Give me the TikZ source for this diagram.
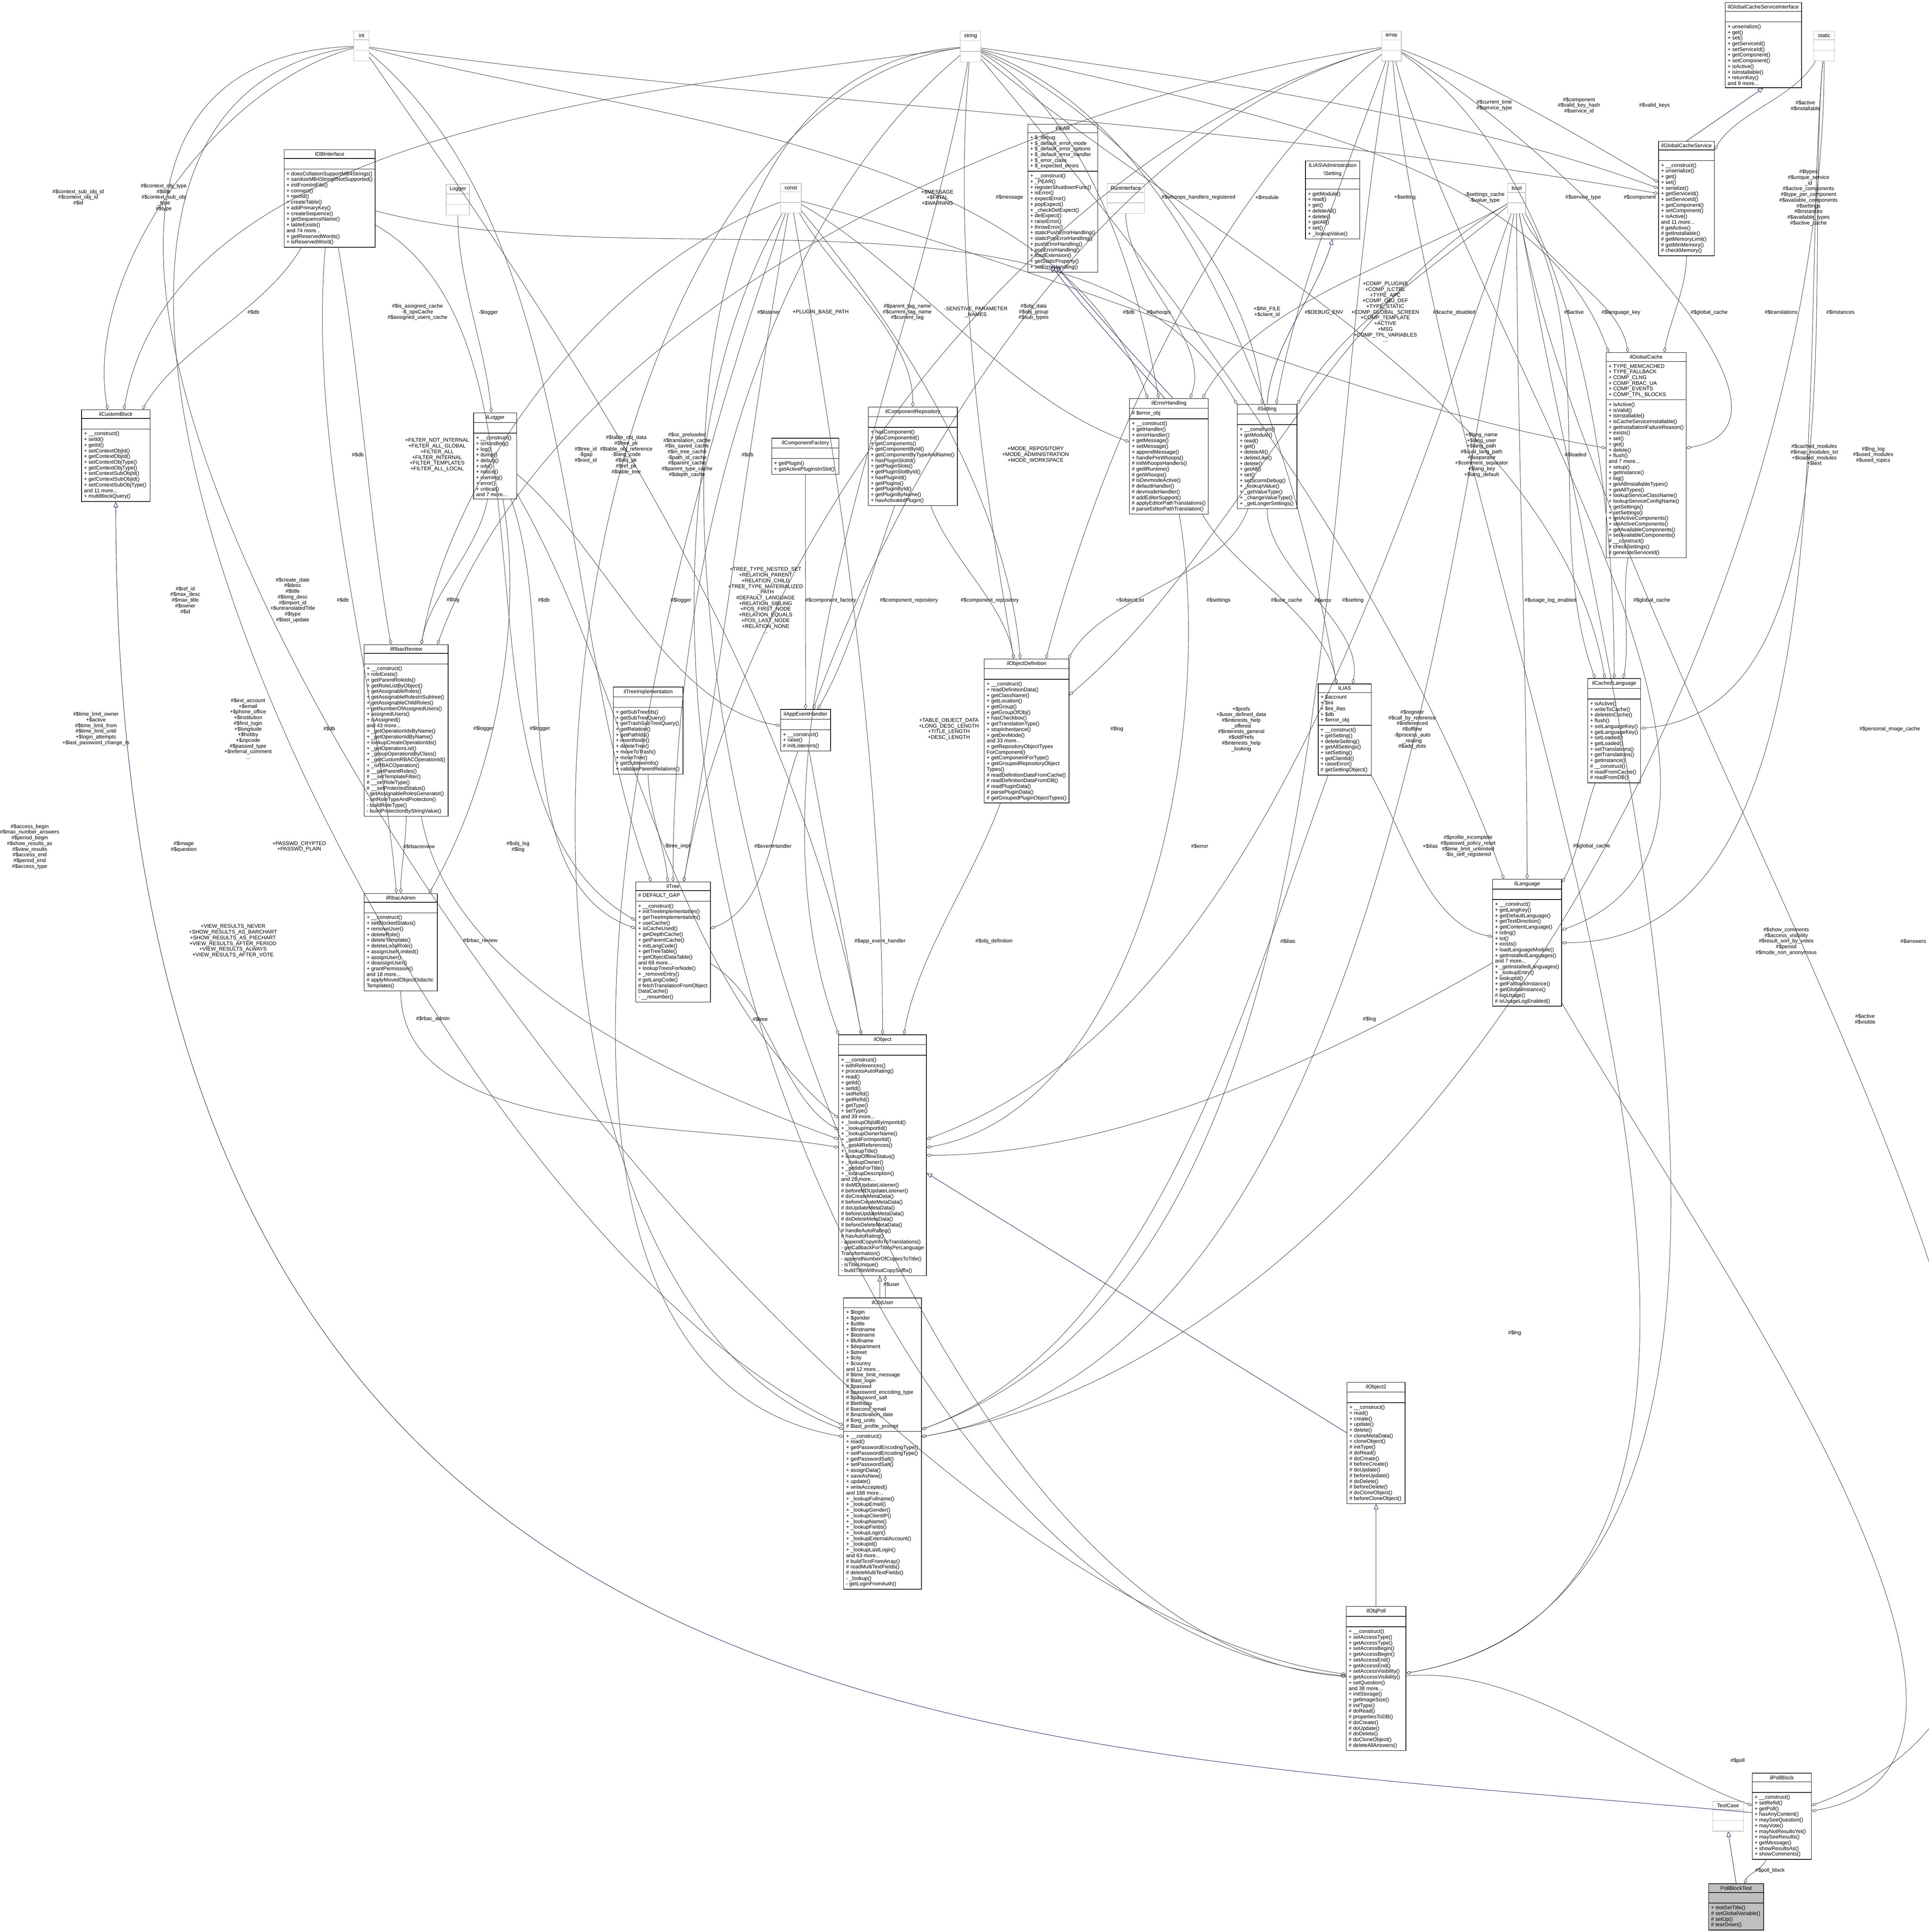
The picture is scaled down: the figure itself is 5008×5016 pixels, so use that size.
\documentclass[tikz,border=0pt]{standalone}
\usepackage{fontspec}
\setmainfont{Liberation Sans}
\usetikzlibrary{shapes.multipart,arrows.meta,calc}
\definecolor{inhblue}{HTML}{191970}
\definecolor{edgegray}{HTML}{404040}
\definecolor{typegray}{HTML}{BFBFBF}
\tikzset{
  cls/.style={draw, line width=0.4pt, rectangle split, rectangle split parts=3,
    rectangle split part align={center,left,left},
    anchor=north west, align=left, inner xsep=1.8pt, inner ysep=1.6pt,
    font=\fontsize{3.9}{4.2}\selectfont},
  tbox/.style={cls, draw=typegray},
  testbox/.style={cls, fill=typegray},
  lbl/.style={align=center, inner sep=0pt, font=\fontsize{3.9}{4.2}\selectfont},
  agg/.style={draw=edgegray, line width=0.3pt, -{Diamond[open,length=4pt,width=2.4pt]}},
  inh/.style={draw=inhblue, line width=0.3pt, -{Triangle[open,length=4pt,width=3.4pt]}}
}
% class box: name, x, y, width, title, attributes, methods, style
\newcommand{\classbox}[8]{%
  \node[#8, minimum width=#4*0.01cm] (#1) at (#2,#3)
    {#5\nodepart{second}\strut#6\nodepart{third}\strut#7};}
% curved connector from anchor angle to anchor angle
\newcommand{\bend}[5]{%
  \draw[#1] let \p1=(#2.#4), \p2=(#3.#5),
    \n1={veclen((\x2-\x1)/100,(\y2-\y1)/100)*32} in
    (#2.#4) .. controls +(#4:\n1) and +(#5:\n1) .. (#3.#5);}

\begin{document}
\begin{tikzpicture}[x=0.01cm,y=-0.01cm]
\useasboundingbox (0,0) rectangle (5008,5016);

% type boxes
\classbox{tint}{918}{80}{40}{int}{}{}{tbox}
\classbox{tstring}{2493}{80}{53}{string}{}{}{tbox}
\classbox{tarray}{3587}{80}{51}{array}{}{}{tbox}
\classbox{tstatic}{4709}{80}{54}{static}{}{}{tbox}
\classbox{tbool}{3914}{476}{47}{bool}{}{}{tbox}
\classbox{tconst}{2026}{476}{54}{const}{}{}{tbox}
\classbox{Logger}{1158}{478}{60}{Logger}{}{}{tbox}
\classbox{RunInterface}{2874}{476}{97}{RunInterface}{}{}{tbox}
\classbox{TestCase}{4447}{4676}{79}{TestCase}{}{}{tbox}

% classes
\classbox{IDBInterface}{737}{388}{235}{IDBInterface}{}{+ doesCollationSupportMB4Strings()\\+ sanitizeMB4StringIfNotSupported()\\+ initFromIniFile()\\+ connect()\\+ nextId()\\+ createTable()\\+ addPrimaryKey()\\+ createSequence()\\+ getSequenceName()\\+ tableExists()\\and 74 more...\\+ getReservedWords()\\+ isReservedWord()}{cls}
\classbox{ilCustomBlock}{211}{1063}{178}{ilCustomBlock}{}{+ \_\_construct()\\+ setId()\\+ getId()\\+ setContextObjId()\\+ getContextObjId()\\+ setContextObjType()\\+ getContextObjType()\\+ setContextSubObjId()\\+ getContextSubObjId()\\+ setContextSubObjType()\\and 11 more...\\+ multiBlockQuery()}{cls}
\classbox{ilLogger}{1229}{1071}{112}{ilLogger}{}{+ \_\_construct()\\+ isHandling()\\+ log()\\+ dump()\\+ debug()\\+ info()\\+ notice()\\+ warning()\\+ error()\\+ critical()\\and 7 more...}{cls}
\classbox{PEAR}{2668}{322}{182}{PEAR}{+ \$\_debug\\+ \$\_default\_error\_mode\\+ \$\_default\_error\_options\\+ \$\_default\_error\_handler\\+ \$\_error\_class\\+ \$\_expected\_errors}{+ \_\_construct()\\+ \_PEAR()\\+ registerShutdownFunc()\\+ isError()\\+ expectError()\\+ popExpect()\\+ \_checkDelExpect()\\+ delExpect()\\+ raiseError()\\+ throwError()\\+ staticPushErrorHandling()\\+ staticPopErrorHandling()\\+ pushErrorHandling()\\+ popErrorHandling()\\+ loadExtension()\\+ getStaticProperty()\\+ setErrorHandling()}{cls}
\classbox{ilComponentRepository}{2254}{1056}{231}{ilComponentRepository}{}{+ hasComponent()\\+ hasComponentId()\\+ getComponents()\\+ getComponentById()\\+ getComponentByTypeAndName()\\+ hasPluginSlotId()\\+ getPluginSlots()\\+ getPluginSlotById()\\+ hasPluginId()\\+ getPlugins()\\+ getPluginById()\\+ getPluginByName()\\+ hasActivatedPlugin()}{cls}
\classbox{ilComponentFactory}{2003}{1137}{175}{ilComponentFactory}{}{+ getPlugin()\\+ getActivePluginsInSlot()}{cls}
\classbox{ilErrorHandling}{2932}{1034}{205}{ilErrorHandling}{\# \$error\_obj}{+ \_\_construct()\\+ getHandler()\\+ errorHandler()\\+ getMessage()\\+ setMessage()\\+ appendMessage()\\+ handlePreWhoops()\\\# initWhoopsHandlers()\\\# getIlRuntime()\\\# getWhoops()\\\# isDevmodeActive()\\\# defaultHandler()\\\# devmodeHandler()\\\# addEditorSupport()\\\# applyEditorPathTranslations()\\\# parseEditorPathTranslation()}{cls}
\classbox{ilSetting}{3212}{1049}{155}{ilSetting}{}{+ \_\_construct()\\+ getModule()\\+ read()\\+ get()\\+ deleteAll()\\+ deleteLike()\\+ delete()\\+ getAll()\\+ set()\\+ setScormDebug()\\+ \_lookupValue()\\+ \_getValueType()\\+ \_changeValueType()\\+ \_getLongerSettings()}{cls}
\classbox{iasetting}{3389}{417}{141}{\shortstack{ILIAS\textbackslash Administration\\\textbackslash Setting}}{}{+ getModule()\\+ read()\\+ get()\\+ deleteAll()\\+ delete()\\+ getAll()\\+ set()\\+ \_lookupValue()}{cls}
\classbox{ilGlobalCacheServiceInterface}{4479}{6}{198}{ilGlobalCacheServiceInterface}{}{+ unserialize()\\+ get()\\+ set()\\+ getServiceId()\\+ setServiceId()\\+ getComponent()\\+ setComponent()\\+ isActive()\\+ isInstallable()\\+ returnKey()\\and 9 more...}{cls}
\classbox{ilGlobalCacheService}{4306}{366}{145}{ilGlobalCacheService}{}{+ \_\_construct()\\+ unserialize()\\+ get()\\+ set()\\+ serialize()\\+ getServiceId()\\+ setServiceId()\\+ getComponent()\\+ setComponent()\\+ isActive()\\and 11 more...\\\# getActive()\\\# getInstallable()\\\# getMemoryLimit()\\\# getMinMemory()\\\# checkMemory()}{cls}
\classbox{ilGlobalCache}{4170}{915}{206}{ilGlobalCache}{+ TYPE\_MEMCACHED\\+ TYPE\_FALLBACK\\+ COMP\_CLNG\\+ COMP\_RBAC\_UA\\+ COMP\_EVENTS\\+ COMP\_TPL\_BLOCKS}{+ isActive()\\+ isValid()\\+ isInstallable()\\+ isCacheServiceInstallable()\\+ getInstallationFailureReason()\\+ exists()\\+ set()\\+ get()\\+ delete()\\+ flush()\\and 7 more...\\+ setup()\\+ getInstance()\\+ log()\\+ getAllInstallableTypes()\\+ getAllTypes()\\+ lookupServiceClassName()\\+ lookupServiceConfigName()\\+ getSettings()\\+ setSettings()\\+ getActiveComponents()\\+ setActiveComponents()\\+ getAvailableComponents()\\+ setAvailableComponents()\\\# \_\_construct()\\\# checkSettings()\\\# generateServiceId()}{cls}
\classbox{ilRbacReview}{945}{1673}{218}{ilRbacReview}{}{+ \_\_construct()\\+ roleExists()\\+ getParentRoleIds()\\+ getRoleListByObject()\\+ getAssignableRoles()\\+ getAssignableRolesInSubtree()\\+ getAssignableChildRoles()\\+ getNumberOfAssignedUsers()\\+ assignedUsers()\\+ isAssigned()\\and 43 more...\\+ \_getOperationIdsByName()\\+ \_getOperationIdByName()\\+ lookupCreateOperationIds()\\+ \_getOperationList()\\+ \_groupOperationsByClass()\\+ \_getCustomRBACOperationId()\\+ \_isRBACOperation()\\\# \_\_getParentRoles()\\\# \_\_setTemplateFilter()\\\# \_\_setRoleType()\\\# \_\_setProtectedStatus()\\- getAssignableRolesGenerator()\\- setRoleTypeAndProtection()\\- buildRoleType()\\- buildProtectionByStringValue()}{cls}
\classbox{ilRbacAdmin}{945}{2319}{190}{ilRbacAdmin}{}{+ \_\_construct()\\+ setBlockedStatus()\\+ removeUser()\\+ deleteRole()\\+ deleteTemplate()\\+ deleteLocalRole()\\+ assignUserLimited()\\+ assignUser()\\+ deassignUser()\\+ grantPermission()\\and 18 more...\\\# applyMovedObjectDidactic\\Templates()}{cls}
\classbox{ilTreeImplementation}{1592}{1783}{181}{ilTreeImplementation}{}{+ getSubTreeIds()\\+ getSubTreeQuery()\\+ getTrashSubTreeQuery()\\+ getRelation()\\+ getPathIds()\\+ insertNode()\\+ deleteTree()\\+ moveToTrash()\\+ moveTree()\\+ getSubtreeInfo()\\+ validateParentRelations()}{cls}
\classbox{ilAppEventHandler}{2026}{1841}{130}{ilAppEventHandler}{}{+ \_\_construct()\\+ raise()\\\# initListeners()}{cls}
\classbox{ilObjectDefinition}{2555}{1710}{218}{ilObjectDefinition}{}{+ \_\_construct()\\+ readDefinitionData()\\+ getClassName()\\+ getLocation()\\+ getGroup()\\+ getGroupOfObj()\\+ hasCheckbox()\\+ getTranslationType()\\+ stopInheritance()\\+ getDevMode()\\and 33 more...\\+ getRepositoryObjectTypes\\ForComponent()\\+ getComponentForType()\\+ getGroupedRepositoryObject\\Types()\\\# readDefinitionDataFromCache()\\\# readDefinitionDataFromDB()\\\# readPluginData()\\\# parsePluginData()\\\# getGroupedPluginObjectTypes()}{cls}
\classbox{ilTree}{1650}{2289}{194}{ilTree}{\# DEFAULT\_GAP}{+ \_\_construct()\\+ initTreeImplementation()\\+ getTreeImplementation()\\+ useCache()\\+ isCacheUsed()\\+ getDepthCache()\\+ getParentCache()\\+ initLangCode()\\+ getTreeTable()\\+ getObjectDataTable()\\and 69 more...\\+ lookupTreesForNode()\\+ \_removeEntry()\\\# getLangCode()\\\# fetchTranslationFromObject\\DataCache()\\- \_\_renumber()}{cls}
\classbox{ILIAS}{3422}{1775}{138}{ILIAS}{+ \$account\\+ \$ini\\+ \$ini\_ilias\\+ \$db\\+ \$error\_obj}{+ \_\_construct()\\+ getSetting()\\+ deleteSetting()\\+ getAllSettings()\\+ setSetting()\\+ getClientId()\\+ raiseError()\\\# getSettingObject()}{cls}
\classbox{ilCachedLanguage}{4122}{1761}{137}{ilCachedLanguage}{}{+ isActive()\\+ writeToCache()\\+ deleteInCache()\\+ flush()\\+ setLanguageKey()\\+ getLanguageKey()\\+ setLoaded()\\+ getLoaded()\\+ setTranslations()\\+ getTranslations()\\+ getInstance()\\\# \_\_construct()\\\# readFromCache()\\\# readFromDB()}{cls}
\classbox{ilLanguage}{3875}{2282}{178}{ilLanguage}{}{+ \_\_construct()\\+ getLangKey()\\+ getDefaultLanguage()\\+ getTextDirection()\\+ getContentLanguage()\\+ txtlng()\\+ txt()\\+ exists()\\+ loadLanguageModule()\\+ getInstalledLanguages()\\and 7 more...\\+ \_getInstalledLanguages()\\+ \_lookupEntry()\\+ lookupId()\\+ getFallbackInstance()\\+ getGlobalInstance()\\\# logUsage()\\\# isUsageLogEnabled()}{cls}
\classbox{ilObject}{2177}{2686}{228}{ilObject}{}{+ \_\_construct()\\+ withReferences()\\+ processAutoRating()\\+ read()\\+ getId()\\+ setId()\\+ setRefId()\\+ getRefId()\\+ getType()\\+ setType()\\and 39 more...\\+ \_lookupObjIdByImportId()\\+ \_lookupImportId()\\+ \_lookupOwnerName()\\+ \_getIdForImportId()\\+ \_getAllReferences()\\+ \_lookupTitle()\\+ lookupOfflineStatus()\\+ \_lookupOwner()\\+ \_getIdsForTitle()\\+ \_lookupDescription()\\and 26 more...\\\# doMDUpdateListener()\\\# beforeMDUpdateListener()\\\# doCreateMetaData()\\\# beforeCreateMetaData()\\\# doUpdateMetaData()\\\# beforeUpdateMetaData()\\\# doDeleteMetaData()\\\# beforeDeleteMetaData()\\\# handleAutoRating()\\\# hasAutoRating()\\- appendCopyInfoToTranslations()\\- getCallbackForTitlesPerLanguage\\Transformation()\\- appendNumberOfCopiesToTitle()\\- isTitleUnique()\\- buildTitleWithoutCopySuffix()}{cls}
\classbox{ilObjUser}{2190}{3369}{202}{ilObjUser}{+ \$login\\+ \$gender\\+ \$utitle\\+ \$firstname\\+ \$lastname\\+ \$fullname\\+ \$department\\+ \$street\\+ \$city\\+ \$country\\and 12 more...\\\# \$time\_limit\_message\\\# \$last\_login\\\# \$passwd\\\# \$password\_encoding\_type\\\# \$password\_salt\\\# \$birthday\\\# \$second\_email\\\# \$inactivation\_date\\\# \$org\_units\\\# \$last\_profile\_prompt}{+ \_\_construct()\\+ read()\\+ getPasswordEncodingType()\\+ setPasswordEncodingType()\\+ getPasswordSalt()\\+ setPasswordSalt()\\+ assignData()\\+ saveAsNew()\\+ update()\\+ writeAccepted()\\and 168 more...\\+ \_lookupFullname()\\+ \_lookupEmail()\\+ \_lookupGender()\\+ \_lookupClientIP()\\+ \_lookupName()\\+ \_lookupFields()\\+ \_lookupLogin()\\+ \_lookupExternalAccount()\\+ \_lookupId()\\+ \_lookupLastLogin()\\and 63 more...\\\# buildTextFromArray()\\\# readMultiTextFields()\\\# deleteMultiTextFields()\\- \_lookup()\\- getLoginFromAuth()}{cls}
\classbox{ilObject2}{3497}{3588}{151}{ilObject2}{}{+ \_\_construct()\\+ read()\\+ create()\\+ update()\\+ delete()\\+ cloneMetaData()\\+ cloneObject()\\\# initType()\\\# doRead()\\\# doCreate()\\\# beforeCreate()\\\# doUpdate()\\\# beforeUpdate()\\\# doDelete()\\\# beforeDelete()\\\# doCloneObject()\\\# beforeCloneObject()}{cls}
\classbox{ilObjPoll}{3495}{4170}{155}{ilObjPoll}{}{+ \_\_construct()\\+ setAccessType()\\+ getAccessType()\\+ setAccessBegin()\\+ getAccessBegin()\\+ setAccessEnd()\\+ getAccessEnd()\\+ setAccessVisibility()\\+ getAccessVisibility()\\+ setQuestion()\\and 38 more...\\+ initStorage()\\+ getImageSize()\\\# initType()\\\# doRead()\\\# propertiesToDB()\\\# doCreate()\\\# doUpdate()\\\# doDelete()\\\# doCloneObject()\\\# deleteAllAnswers()}{cls}
\classbox{ilPollBlock}{4549}{4603}{154}{ilPollBlock}{}{+ \_\_construct()\\+ setRefId()\\+ getPoll()\\+ hasAnyContent()\\+ maySeeQuestion()\\+ mayVote()\\+ mayNotResultsYet()\\+ maySeeResults()\\+ getMessage()\\+ showResultsAs()\\+ showComments()}{cls}
\classbox{PollBlockTest}{4436}{4890}{143}{PollBlockTest}{}{+ testSetTitle()\\\# setGlobalVariable()\\\# setUp()\\\# tearDown()}{testbox}

% member connectors
\foreach \s/\t/\o/\i in {
  tint/ilCustomBlock/-165/100, tstring/ilCustomBlock/-172/80, IDBInterface/ilCustomBlock/-120/60,
  tarray/ilRbacReview/-172/70, Logger/ilLogger/-90/95, tconst/ilRbacReview/-160/80,
  IDBInterface/ilRbacReview/-80/100, tint/ilTree/-40/110, tstring/ilTree/-140/90,
  tarray/ilTree/-165/80, IDBInterface/ilTree/-30/150, tarray/ilAppEventHandler/-165/70,
  tconst/ilComponentRepository/-60/90, tstring/ilObjectDefinition/-95/100,
  tconst/ilErrorHandling/-30/160, tarray/ilObjectDefinition/-140/75,
  IDBInterface/ilSetting/-15/120, RunInterface/ilErrorHandling/-90/70,
  tint/ilErrorHandling/-15/110, tstring/ilErrorHandling/-30/100,
  tbool/ilErrorHandling/-150/60, tconst/ilObjectDefinition/-50/95,
  tstring/ILIAS/-20/100, tstring/ilSetting/-25/95, tarray/ilSetting/-110/80,
  tbool/ilSetting/-140/60, tint/ilGlobalCacheService/-8/170,
  tstring/ilGlobalCacheService/-8/160, tarray/ilGlobalCacheService/-20/150,
  tstatic/ilGlobalCacheService/-120/60, tstring/ilGlobalCache/-15/110,
  tarray/ilGlobalCache/-30/10, tconst/ilGlobalCache/-15/170, tbool/ilGlobalCache/-70/100,
  ilGlobalCacheService/ilGlobalCache/-90/80, tstring/ilCachedLanguage/-40/100,
  tarray/ilCachedLanguage/-35/90, tstatic/ilCachedLanguage/-95/5,
  tbool/ilCachedLanguage/-60/110, tstring/ilLanguage/-50/110, tarray/ilLanguage/-75/20,
  tstatic/ilLanguage/-95/0, tint/ilObject/-55/100, tstring/ilObject/-100/110,
  IDBInterface/ilRbacAdmin/-95/95, ilLogger/ilRbacReview/-100/80,
  tint/ilObjUser/-172/155, tstring/ilObjUser/-172/160, ilLogger/ilRbacAdmin/-80/60,
  ilLogger/ilTree/-70/160, tint/ilObjPoll/-178/172, tstring/ilObjPoll/-176/176,
  tconst/ilObjUser/-110/170, ilRbacReview/ilRbacAdmin/-90/90, ilLogger/ilObject/-60/140,
  tconst/ilObjPoll/-120/175, ilRbacReview/ilObject/-80/160, ilRbacAdmin/ilObject/-90/170,
  ilLogger/ilAppEventHandler/-40/170, tconst/ilTree/-100/80,
  ilComponentFactory/ilAppEventHandler/-90/90, ilComponentRepository/ilAppEventHandler/-110/60,
  ilComponentRepository/ilObjectDefinition/-70/100, ilSetting/ilObjectDefinition/-110/60,
  tconst/ilObject/-80/90, tarray/ilObjUser/-100/20, ilTreeImplementation/ilTree/-90/95,
  ilAppEventHandler/ilTree/-110/20, ilErrorHandling/ilObject/-80/10,
  ilAppEventHandler/ilObject/-80/100, ilObjectDefinition/ilObject/-110/80,
  ilTree/ilObject/-30/150, tbool/ilObjectDefinition/-150/40, ilErrorHandling/ILIAS/-60/100,
  ilSetting/ILIAS/-90/80, tbool/ilLanguage/-90/90, ilGlobalCache/ilCachedLanguage/-100/80,
  tbool/ilObject/-110/20, tstatic/ilObjUser/-90/10, ILIAS/ilLanguage/-60/170,
  tbool/ilObjUser/-100/10, ilCachedLanguage/ilLanguage/-110/60, ILIAS/ilObjUser/-110/20,
  tbool/ilObjPoll/-80/10, tarray/ilObjPoll/-85/10, ilLanguage/ilObject/-150/0,
  tbool/ilPollBlock/-80/20, ilLanguage/ilPollBlock/-60/10, ilObjPoll/ilPollBlock/5/160,
  ilPollBlock/PollBlockTest/-110/70}
  {\bend{agg}{\s}{\t}{\o}{\i}}
\draw[agg] ([xshift=2pt]ilObjUser.north) -- ([xshift=2pt]ilObject.south);

% inheritance
\draw[inh] (ilPollBlock.173) .. controls (2500,4520) and (300,4560) .. (ilCustomBlock.south);
\draw[inh] ([xshift=-3pt]ilErrorHandling.north) .. controls +(0,1) and +(0.3,-1) .. ([xshift=-8pt]PEAR.south);
\draw[inh] ([xshift=3pt]ilErrorHandling.north) .. controls +(0,1) and +(0.3,-1) .. ([xshift=-4pt]PEAR.south);
\draw[inh] (ilSetting.north) .. controls (3300,900) and (3420,760) .. (iasetting.south);
\draw[inh] (ilGlobalCacheService.north) -- (ilGlobalCacheServiceInterface.south);
\draw[inh] ([xshift=-2pt]ilObjUser.north) -- ([xshift=-2pt]ilObject.south);
\draw[inh] (ilObject2.161) -- (ilObject.-22);
\draw[inh] (ilObjPoll.north) -- (ilObject2.south);
\draw[inh] (PollBlockTest.north) -- (TestCase.south);

% labels
\node[lbl] (l1) at (203,512) {\#\$context\_sub\_obj\_id\\\#\$context\_obj\_id\\\#\$id};
\node[lbl] (l2) at (425,513) {\#\$context\_obj\_type\\\#\$title\\\#\$context\_sub\_obj\\\_type\\\#\$type};
\node[lbl] (l3) at (658,811) {\#\$db};
\node[lbl] (l4) at (1084,810) {\#\$is\_assigned\_cache\\-\$\_opsCache\\\#\$assigned\_users\_cache};
\node[lbl] (l5) at (1268,811) {-\$logger};
\node[lbl] (l6) at (1135,1181) {+FILTER\_NOT\_INTERNAL\\+FILTER\_ALL\_GLOBAL\\+FILTER\_ALL\\+FILTER\_INTERNAL\\+FILTER\_TEMPLATES\\+FILTER\_ALL\_LOCAL};
\node[lbl] (l7) at (929,1181) {\#\$db};
\node[lbl] (l8) at (1521,1181) {\#\$tree\_id\\-\$gap\\\#\$root\_id};
\node[lbl] (l9) at (1626,1181) {\#\$table\_obj\_data\\\#\$tree\_pk\\\#\$table\_obj\_reference\\-\$lang\_code\\\#\$obj\_pk\\\#\$ref\_pk\\\#\$table\_tree};
\node[lbl] (l10) at (1784,1181) {\#\$oc\_preloaded\\\#\$translation\_cache\\\#\$is\_saved\_cache\\\#\$in\_tree\_cache\\-\$path\_id\_cache\\\#\$parent\_cache\\\#\$parent\_type\_cache\\\#\$depth\_cache};
\node[lbl] (l11) at (1941,1181) {\#\$db};
\node[lbl] (l12) at (1996,811) {\#\$listener};
\node[lbl] (l13) at (2131,811) {+PLUGIN\_BASE\_PATH};
\node[lbl] (l14) at (2356,810) {\#\$parent\_tag\_name\\\#\$current\_tag\_name\\\#\$current\_tag};
\node[lbl] (l15) at (2534,810) {-SENSTIVE\_PARAMETER\\\_NAMES};
\node[lbl] (l16) at (2684,810) {\#\$obj\_data\\\#\$obj\_group\\\#\$sub\_types};
\node[lbl] (l17) at (2931,811) {\#\$db};
\node[lbl] (l18) at (3009,811) {\#\$whoops};
\node[lbl] (l19) at (2434,513) {+\$MESSAGE\\+\$FATAL\\+\$WARNING};
\node[lbl] (l20) at (2621,513) {\#\$message};
\node[lbl] (l21) at (3112,513) {\#\$whoops\_handlers\_registered};
\node[lbl] (l22) at (2689,1181) {+MODE\_REPOSITORY\\+MODE\_ADMINISTRATION\\+MODE\_WORKSPACE};
\node[lbl] (l23) at (3880,273) {\#\$current\_time\\\#\$service\_type};
\node[lbl] (l24) at (4100,274) {\#\$component\\\#\$valid\_key\_hash\\\#\$service\_id};
\node[lbl] (l25) at (4296,274) {\#\$valid\_keys};
\node[lbl] (l26) at (4688,274) {\#\$active\\\#\$installable};
\node[lbl] (l27) at (3290,513) {+\$module};
\node[lbl] (l28) at (3648,513) {+\$setting};
\node[lbl] (l29) at (3855,513) {-\$settings\_cache\\-\$value\_type};
\node[lbl] (l30) at (4111,513) {\#\$service\_type};
\node[lbl] (l31) at (4258,513) {\#\$component};
\node[lbl] (l32) at (4696,513) {\#\$types\\\#\$unique\_service\\\_id\\\#\$active\_components\\\#\$type\_per\_component\\\#\$available\_components\\\#\$settings\\\#\$instances\\\#\$available\_types\\\#\$active\_cache};
\node[lbl] (l33) at (3290,810) {+\$INI\_FILE\\+\$client\_id};
\node[lbl] (l34) at (3438,811) {\#\$DEBUG\_ENV};
\node[lbl] (l35) at (3597,810) {+COMP\_PLUGINS\\+COMP\_ILCTRL\\+TYPE\_APC\\+COMP\_OBJ\_DEF\\+TYPE\_STATIC\\+COMP\_GLOBAL\_SCREEN\\+COMP\_TEMPLATE\\+ACTIVE\\+MSG\\+COMP\_TPL\_VARIABLES\\...};
\node[lbl] (l36) at (3776,811) {\#\$cache\_disabled};
\node[lbl] (l37) at (4087,811) {\#\$active};
\node[lbl] (l38) at (4209,811) {\#\$language\_key};
\node[lbl] (l39) at (4438,811) {\#\$global\_cache};
\node[lbl] (l40) at (4625,811) {\#\$translations};
\node[lbl] (l41) at (4779,811) {\#\$instances};
\node[lbl] (l42) at (3847,1181) {+\$lang\_name\\+\$lang\_user\\+\$lang\_path\\\#\$cust\_lang\_path\\+\$separator\\+\$comment\_separator\\+\$lang\_key\\+\$lang\_default};
\node[lbl] (l43) at (4091,1181) {\#\$loaded};
\node[lbl] (l44) at (4711,1181) {\#\$cached\_modules\\\#\$map\_modules\_txt\\+\$loaded\_modules\\+\$text};
\node[lbl] (l45) at (4864,1181) {\#\$lng\_log\\\#\$used\_modules\\\#\$used\_topics};
\node[lbl] (l46) at (481,1558) {\#\$ref\_id\\\#\$max\_desc\\\#\$max\_title\\\#\$owner\\\#\$id};
\node[lbl] (l47) at (760,1558) {\#\$create\_date\\\#\$desc\\\#\$title\\\#\$long\_desc\\\#\$import\_id\\+\$untranslatedTitle\\\#\$type\\\#\$last\_update};
\node[lbl] (l48) at (890,1558) {\#\$db};
\node[lbl] (l49) at (1176,1558) {\#\$log};
\node[lbl] (l50) at (1412,1558) {\#\$db};
\node[lbl] (l51) at (249,1892) {\#\$time\_limit\_owner\\+\$active\\\#\$time\_limit\_from\\\#\$time\_limit\_until\\+\$login\_attempts\\+\$last\_password\_change\_ts};
\node[lbl] (l52) at (644,1892) {\#\$ext\_account\\+\$email\\+\$phone\_office\\+\$institution\\\#\$first\_login\\+\$longitude\\+\$hobby\\+\$zipcode\\\#\$passwd\_type\\+\$referral\_comment\\...};
\node[lbl] (l53) at (855,1892) {\#\$db};
\node[lbl] (l54) at (1256,1892) {\#\$logger};
\node[lbl] (l55) at (1402,1892) {\#\$logger};
\node[lbl] (l56) at (77,2198) {\#\$access\_begin\\\#\$max\_number\_answers\\\#\$period\_begin\\\#\$show\_results\_as\\\#\$view\_results\\\#\$access\_end\\\#\$period\_end\\\#\$access\_type};
\node[lbl] (l57) at (477,2198) {\#\$image\\\#\$question};
\node[lbl] (l58) at (777,2198) {+PASSWD\_CRYPTED\\+PASSWD\_PLAIN};
\node[lbl] (l59) at (1088,2198) {\#\$rbacreview};
\node[lbl] (l60) at (1345,2198) {\#\$obj\_log\\\#\$log};
\node[lbl] (l61) at (605,2443) {+VIEW\_RESULTS\_NEVER\\+SHOW\_RESULTS\_AS\_BARCHART\\+SHOW\_RESULTS\_AS\_PIECHART\\+VIEW\_RESULTS\_AFTER\_PERIOD\\+VIEW\_RESULTS\_ALWAYS\\+VIEW\_RESULTS\_AFTER\_VOTE};
\node[lbl] (l62) at (1247,2443) {\#\$rbac\_review};
\node[lbl] (l63) at (1124,2645) {\#\$rbac\_admin};
\node[lbl] (l64) at (1768,1559) {\#\$logger};
\node[lbl] (l65) at (1988,1559) {+TREE\_TYPE\_NESTED\_SET\\+RELATION\_PARENT\\+RELATION\_CHILD\\+TREE\_TYPE\_MATERIALIZED\\\_PATH\\\#DEFAULT\_LANGUAGE\\+RELATION\_SIBLING\\+POS\_FIRST\_NODE\\+RELATION\_EQUALS\\+POS\_LAST\_NODE\\+RELATION\_NONE\\...};
\node[lbl] (l66) at (2157,1559) {\#\$component\_factory};
\node[lbl] (l67) at (2360,1559) {\#\$component\_repository};
\node[lbl] (l68) at (2570,1559) {\#\$component\_repository};
\node[lbl] (l69) at (2934,1559) {+\$objectList};
\node[lbl] (l70) at (3164,1559) {\#\$settings};
\node[lbl] (l71) at (2464,1893) {+TABLE\_OBJECT\_DATA\\+LONG\_DESC\_LENGTH\\+TITLE\_LENGTH\\+DESC\_LENGTH};
\node[lbl] (l72) at (2900,1893) {\#\$log};
\node[lbl] (l73) at (3223,1893) {+\$prefs\\+\$user\_defined\_data\\\#\$interests\_help\\\_offered\\\#\$interests\_general\\\#\$oldPrefs\\\#\$interests\_help\\\_looking};
\node[lbl] (l74) at (1758,2197) {-\$tree\_impl};
\node[lbl] (l75) at (2007,2197) {\#\$eventHandler};
\node[lbl] (l76) at (3115,2197) {\#\$error};
\node[lbl] (l77) at (2285,2444) {\#\$app\_event\_handler};
\node[lbl] (l78) at (2581,2444) {\#\$obj\_definition};
\node[lbl] (l79) at (1974,2646) {\#\$tree};
\node[lbl] (l80) at (3341,1559) {\#\$use\_cache};
\node[lbl] (l81) at (3435,1559) {\#\$error};
\node[lbl] (l82) at (3513,1559) {\#\$setting};
\node[lbl] (l83) at (4026,1559) {\#\$usage\_log\_enabled};
\node[lbl] (l84) at (4289,1559) {\#\$global\_cache};
\node[lbl] (l85) at (3667,1894) {\#\$register\\\#\$call\_by\_reference\\\#\$referenced\\\#\$offline\\-\$process\_auto\\\_reating\\\#\$add\_dots};
\node[lbl] (l86) at (4907,1893) {\#\$personal\_image\_cache};
\node[lbl] (l87) at (3714,2197) {+\$ilias};
\node[lbl] (l88) at (3812,2197) {\#\$profile\_incomplete\\\#\$passwd\_policy\_reset\\\#\$time\_limit\_unlimited\\-\$is\_self\_registered};
\node[lbl] (l89) at (4133,2197) {\#\$global\_cache};
\node[lbl] (l90) at (3344,2444) {\#\$ilias};
\node[lbl] (l91) at (4638,2444) {\#\$show\_comments\\\#\$access\_visibility\\\#\$result\_sort\_by\_votes\\\#\$period\\\#\$mode\_non\_anonymous};
\node[lbl] (l92) at (4968,2444) {\#\$answers};
\node[lbl] (l93) at (3556,2646) {\#\$lng};
\node[lbl] (l94) at (4843,2646) {\#\$active\\\#\$visible};
\node[lbl] (l95) at (3933,3461) {\#\$lng};
\node[lbl] (l96) at (2315,3335) {\#\$user};
\node[lbl] (l97) at (4512,4571) {\#\$poll};
\node[lbl] (l98) at (4596,4856) {\#\$poll\_block};
\end{tikzpicture}
\end{document}
